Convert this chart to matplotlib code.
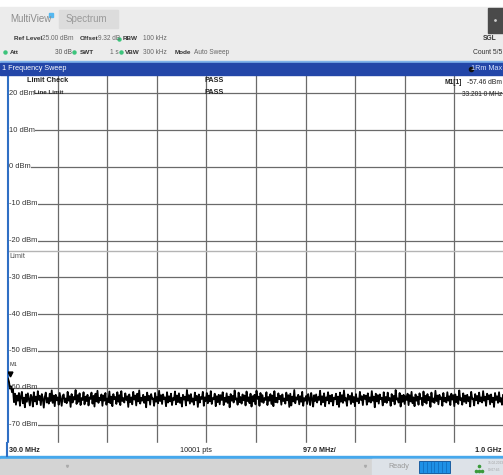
import numpy as np
import matplotlib
matplotlib.use("Agg")
import matplotlib.pyplot as plt
from matplotlib.patches import Rectangle

plt.rcParams['font.family'] = ['Liberation Sans Narrow', 'Liberation Sans', 'DejaVu Sans']

# Sweep settings (from the screen)
start_mhz = 30.0
stop_mhz = 1000.0
span_per_div = 97.0
ref_level = 25.0
limit_dbm = -22.7
marker_freq = 33.201
marker_level = -57.46

grid_dbm = [20, 10, 0, -10, -20, -30, -40, -50, -60, -70]
grid_labels = ["20 dBm", "10 dBm", "0 dBm", "-10 dBm", "-20 dBm", "-30 dBm",
               "-40 dBm", "-50 dBm", "-60 dBm", "-70 dBm"]

# Trace (max hold noise floor)
trace_dbm = [
    -57.5, -58.4, -60.2, -59.6, -61.2, -60.3, -63.9, -61.6, -64.6, -62.1, -63.5, -61.4, -64.9, -62.3, -61.1, -64.2, -62.7, -65.3, -61.8, -63.8,
    -61.5, -63.2, -64.8, -61.9, -62.6, -65.1, -61.2, -63.7, -62.4, -64.5, -60.9, -63.3, -62.2, -64.7, -61.7, -63.0, -65.4, -62.5, -61.3, -64.0,
    -62.8, -64.3, -61.6, -63.6, -60.7, -64.1, -62.1, -65.0, -61.9, -63.4, -62.6, -64.6, -61.4, -63.1, -64.9, -62.2, -61.8, -63.9, -62.9, -64.2,
    -61.1, -63.5, -62.3, -65.2, -61.7, -64.0, -62.5, -63.2, -60.6, -64.4, -62.0, -63.8, -61.5, -64.7, -62.8, -63.3, -61.2, -64.5, -62.4, -63.6,
    -61.9, -64.8, -62.6, -63.0, -61.3, -64.3, -62.2, -65.1, -61.6, -63.7, -60.8, -64.1, -62.7, -63.4, -61.8, -64.9, -62.1, -63.5, -61.4, -64.6,
    -62.9, -63.9, -61.0, -64.2, -62.4, -65.0, -61.7, -63.1, -62.5, -64.4, -61.2, -63.8, -62.0, -64.7, -60.9, -63.6, -62.8, -64.0, -61.5, -63.3,
    -62.3, -65.2, -61.8, -63.9, -62.6, -64.5, -61.1, -63.2, -62.1, -64.8, -61.6, -63.7, -60.7, -64.3, -62.7, -63.5, -61.9, -64.1, -62.4, -65.3,
    -61.3, -63.4, -62.2, -64.6, -61.7, -63.0, -62.9, -64.9, -61.4, -63.8, -62.5, -64.2, -60.8, -63.6, -62.0, -64.4, -61.8, -63.1, -62.6, -65.0,
    -61.2, -64.0, -62.3, -63.7, -61.6, -64.7, -62.8, -63.3, -61.0, -64.5, -62.1, -63.9, -61.5, -64.1, -62.7, -65.1, -61.9, -63.2, -62.4, -64.8,
    -60.6, -63.5, -62.0, -64.3, -61.7, -63.8, -62.9, -64.6, -61.3, -63.4, -62.2, -65.2, -61.8, -64.0, -62.5, -63.0, -61.1, -64.9, -62.6, -63.6,
    -61.4, -64.2, -62.1, -63.7, -60.9, -64.4, -62.8, -63.1, -61.6, -65.0, -62.3, -63.9, -61.9, -64.5, -62.0, -63.3, -61.2, -64.7, -62.7, -63.8,
    -61.5, -64.1, -62.4, -65.3, -61.7, -63.5, -62.2, -64.0, -60.7, -63.2, -62.9, -64.6, -61.3, -63.9, -62.5, -64.3, -61.8, -63.4, -62.1, -64.8,
    -61.0, -63.6, -62.6, -64.2, -61.6, -65.1, -62.3, -63.7, -61.9, -64.5, -60.8, -63.0, -62.4, -64.9, -61.4, -63.8, -62.0, -64.1, -62.8, -63.3,
    -61.2, -64.7, -62.5, -63.5, -61.7, -64.4, -62.1, -65.0, -60.9, -63.9, -62.7, -64.0, -61.5, -63.1, -62.2, -64.6, -61.8, -63.6, -62.9, -64.3,
    -61.3, -63.4, -62.0, -65.2, -61.6, -64.8, -62.4, -63.7, -60.6, -64.2, -62.6, -63.2, -61.9, -64.5, -62.3, -63.8, -61.1, -64.9, -62.8, -63.5,
    -62.2, -64.4, -61.7, -63.0, -64.7, -61.4, -62.9, -65.1, -62.0, -63.6, -61.8, -64.0, -62.5, -63.3, -60.8, -64.6, -62.3, -63.9, -61.5, -65.0,
    -62.6, -63.4, -61.2, -64.3, -62.1, -63.7, -61.9, -64.8, -62.7, -63.1, -61.6, -64.5, -62.4, -65.2, -61.3, -63.8, -62.0, -64.1, -60.7, -63.5,
    -62.8, -64.9, -61.8, -63.2, -62.2, -64.4, -61.4, -63.9, -62.5, -65.0, -61.7, -63.6, -62.9, -64.2, -61.1, -63.3, -62.3, -64.7, -61.9, -63.0,
    -62.1, -64.6, -61.5, -63.8, -62.6, -64.0, -60.9, -63.5, -62.4, -65.3, -61.6, -63.7, -62.0, -64.3, -61.8, -63.1, -62.7, -64.8, -61.2, -63.9,
    -62.5, -64.1, -61.3, -63.4, -62.8, -64.9, -61.7, -63.6, -62.2, -64.5, -60.6, -63.2, -62.9, -64.0, -61.4, -65.1, -62.1, -63.8, -61.9, -64.4,
    -62.3, -63.3, -61.6, -64.7, -62.0, -63.7, -61.1, -64.2, -62.6, -65.0, -61.8, -63.5, -62.4, -64.6, -61.5, -63.0, -62.8, -64.8, -61.0, -63.9,
    -62.2, -64.3, -61.7, -63.4, -62.5, -65.2, -61.3, -63.8, -62.9, -64.1, -60.8, -63.6, -62.1, -64.5, -61.9, -63.1, -62.6, -64.9, -61.4, -63.7,
    -62.7, -64.0, -61.2, -63.5, -62.3, -64.7, -61.6, -63.2, -62.0, -65.0, -61.8, -63.9, -62.4, -64.4, -60.7, -63.3, -62.8, -64.6, -61.5, -63.8,
    -62.1, -64.2, -61.9, -63.6, -62.5, -65.1, -61.1, -63.0, -62.9, -64.8, -61.7, -63.4, -62.2, -64.3, -61.3, -63.7, -62.6, -64.0, -60.9, -63.5,
    -62.4, -64.9, -61.6, -63.1, -62.0, -64.5, -61.8, -63.9, -62.7, -65.2, -61.4, -63.3, -62.3, -64.1, -61.2, -63.8, -62.8, -64.6, -61.9, -63.6,
]
trace_mhz = np.linspace(start_mhz, stop_mhz, len(trace_dbm))

W, H = 503, 475
fig = plt.figure(figsize=(W / 100, H / 100), dpi=100)
fig.patch.set_facecolor("white")

# pixel layout of the measurement window
px_left, px_right, px_top, px_bot = 8, 504, 75, 443

ax = fig.add_axes([px_left / W, 1 - px_bot / H, (px_right - px_left) / W, (px_bot - px_top) / H])
ax.set_xlim(start_mhz, start_mhz + 10 * span_per_div)
ax.set_ylim(ref_level - 100, ref_level)
ax.set_facecolor("white")
for k in range(1, 10):
    ax.axvline(start_mhz + k * span_per_div, color="#6a6a6a", lw=0.9, zorder=1)
for g in grid_dbm:
    ax.axhline(g, color="#6a6a6a", lw=0.9, zorder=1)
ax.axhline(limit_dbm, color="#b4b4b4", lw=1.0, zorder=1)
ax.plot(trace_mhz, trace_dbm, color="black", lw=1.3, zorder=3)
ax.plot([marker_freq], [-56.3], marker="v", color="black", ms=3.5, zorder=4)
ax.set_xticks([])
ax.set_yticks([])
for s in ax.spines.values():
    s.set_visible(False)
ax.spines["left"].set_visible(True)
ax.spines["left"].set_color("#2f6fc4")
ax.spines["left"].set_linewidth(1.5)

# labels inside the diagram
for g, lab in zip(grid_dbm, grid_labels):
    bb = dict(facecolor="white", edgecolor="none", pad=0.3) if g != -60 else None
    ax.text(start_mhz + 2, g, lab, fontsize=5.4, color="#333333", va="center", ha="left",
            bbox=bb, zorder=5)
ax.text(start_mhz + 2, limit_dbm - 1.6, "Limit", fontsize=5.4, color="#555555", va="center", zorder=5)
ax.text(start_mhz + 2, -53.6, "M1", fontsize=4.0, color="#333333", va="center", zorder=5)

# overlay in pixel coordinates for the instrument frame
ov = fig.add_axes([0, 0, 1, 1], facecolor="none")
ov.set_xlim(0, W)
ov.set_ylim(H, 0)
ov.axis("off")

# header area
ov.add_patch(Rectangle((0, 7), W, 55, color="#ececec", zorder=0))
ov.add_patch(Rectangle((59, 10), 59, 18, color="#dcdcdc", zorder=1))
ov.add_patch(Rectangle((488, 8), 15, 25, color="#4a4a4a", zorder=1))
ov.plot([495.5], [20], marker="o", ms=1, color="#cccccc")
ov.text(10, 19, "MultiView", fontsize=7.0, color="#8c8c8c", va="center")
ov.plot([51.5], [15], marker="s", ms=2.5, color="#55b8f0")
ov.text(66, 19, "Spectrum", fontsize=7.0, color="#9a9a9a", va="center")

def hdr(x, y, txt, bold=False, color="#333333", ha="left", size=5.2):
    ov.text(x, y, txt, fontsize=size, color=color, va="center", ha=ha,
            fontweight="bold" if bold else "normal")

def dot(x, y):
    ov.plot([x], [y], marker="o", ms=2.2, color="#3cc47c")

hdr(14, 39, "Ref Level", bold=True, size=4.6)
hdr(42, 39, "25.00 dBm", color="#666666", size=4.7)
hdr(80, 39, "Offset", bold=True, size=4.6)
hdr(98, 39, "9.32 dB", color="#666666", size=4.7)
dot(119, 39)
hdr(123, 39, "RBW", bold=True, size=4.6)
hdr(143, 39, "100 kHz", color="#666666", size=4.7)
hdr(483, 39, "SGL", bold=True, size=4.8)

dot(5, 52)
hdr(10, 52, "Att", bold=True, size=4.6)
hdr(55, 52, "30 dB", color="#555555", size=4.7)
dot(74, 52)
hdr(80, 52, "SWT", bold=True, size=4.6)
hdr(110, 52, "1 s", color="#666666", size=4.7)
dot(121, 52)
hdr(125, 52, "VBW", bold=True, size=4.6)
hdr(143, 52, "300 kHz", color="#666666", size=4.7)
hdr(175, 52, "Mode", bold=True, size=4.6)
hdr(194, 52, "Auto Sweep", color="#666666", size=4.7)
hdr(502, 52, "Count 5/5", ha="right", size=4.9)

# title bar of the diagram
ov.add_patch(Rectangle((0, 61), W, 1.5, color="#7fb2ea", zorder=1))
ov.add_patch(Rectangle((0, 62.5), W, 12.5, color="#2346a8", zorder=1))
hdr(2, 68.5, "1 Frequency Sweep", color="white")
ov.plot([471], [68.5], marker="o", ms=3, color="#111111")
hdr(502, 68.5, "1Rm Max", color="#d8e4ff", ha="right")

# limit check / marker info
hdr(27, 81, "Limit Check", bold=True, color="#222222")
hdr(34, 92.5, "Line Limit", bold=True, color="#222222", size=4.5)
hdr(205, 81, "PASS", bold=True, color="#222222")
hdr(205, 92, "PASS", bold=True, color="#222222")
hdr(445, 82, "M1[1]", bold=True, color="#222222", size=4.8)
hdr(502, 82, "%.2f dBm" % marker_level, color="#222222", ha="right", size=4.9)
hdr(502, 94, "33.201 0 MHz", color="#222222", ha="right", size=4.7)

# bottom scale row
ov.add_patch(Rectangle((0, 443), W, 13, color="white", zorder=1))
ov.plot([7, 7], [443, 456], color="#2f6fc4", lw=1.5)
hdr(9, 451, "30.0 MHz", bold=True, color="#222222")
hdr(180, 451, "10001 pts", color="#222222")
hdr(303, 451, "97.0 MHz/", bold=True, color="#222222")
hdr(502, 451, "1.0 GHz", bold=True, color="#222222", ha="right")

# status bar
ov.add_patch(Rectangle((0, 456), W, 2.5, color="#46a8ec", zorder=1))
ov.add_patch(Rectangle((0, 458.5), W, 17, color="#d4d4d4", zorder=1))
ov.add_patch(Rectangle((372, 458.5), W - 372, 17, color="#dde2e8", zorder=1))
ov.plot([67], [466], marker="v", ms=1.5, color="#aaaaaa")
ov.plot([365], [466], marker="v", ms=1.5, color="#aaaaaa")
hdr(388, 467, "Ready", color="#9a9a9a")
ov.add_patch(Rectangle((419, 461), 31, 12, facecolor="#1e90e6", edgecolor="#0b4f96", lw=0.6, zorder=2))
for i in range(1, 8):
    ov.plot([419 + i * 31 / 8] * 2, [462, 472], color="#0b60b0", lw=0.4, zorder=3)
ov.plot([476, 479, 482, 479], [471, 466, 471, 471], marker="o", ms=1.6, ls="none", color="#3a9a3a")
hdr(488, 463, "15.02.2023", color="#a0a0a0", size=2.3)
hdr(488, 470, "09:07:45", color="#a0a0a0", size=2.3)

fig.savefig("out.png", dpi=100)
